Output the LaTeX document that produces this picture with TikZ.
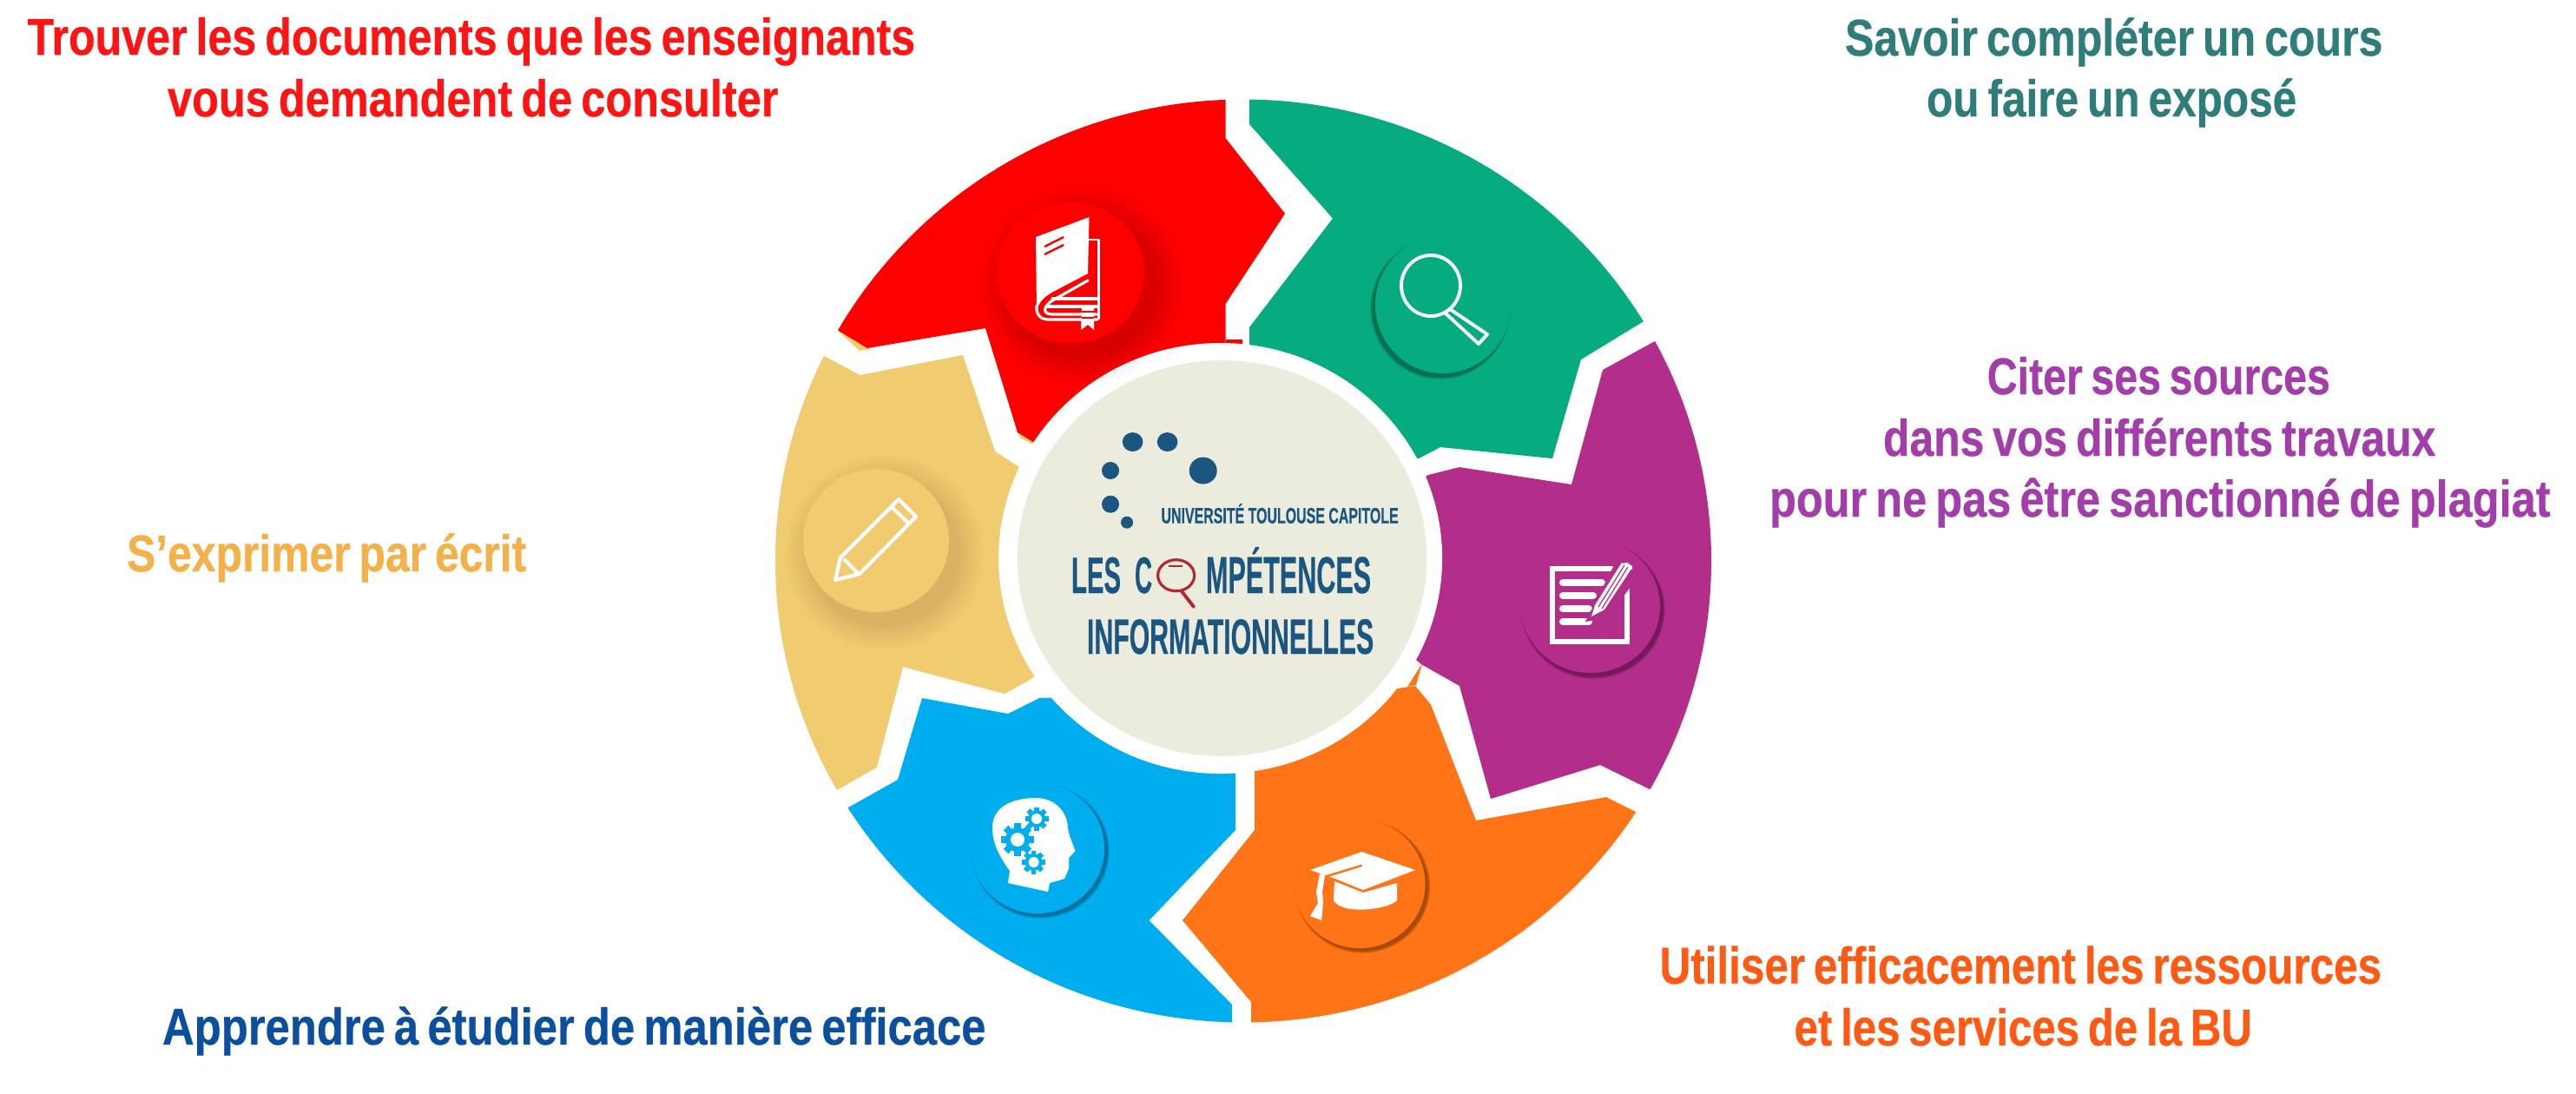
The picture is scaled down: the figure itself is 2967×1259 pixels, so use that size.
\documentclass[tikz,border=0pt]{standalone}
\usepackage{fontspec}
\usepackage{graphicx}
\setmainfont{Liberation Sans}[BoldFeatures={FakeBold=0.5}]
\definecolor{cred}{HTML}{FF0000}
\definecolor{cgreen}{HTML}{06AC7F}
\definecolor{cpurple}{HTML}{B32D8B}
\definecolor{corange}{HTML}{FF7417}
\definecolor{cblue}{HTML}{00AEEF}
\definecolor{cyellow}{HTML}{F1CB6F}
\definecolor{cbeige}{HTML}{ECECDE}
\definecolor{navy}{HTML}{1B5680}
\definecolor{lensred}{HTML}{B0282E}
\definecolor{tred}{HTML}{FF1414}
\definecolor{tgreen}{HTML}{2E7D7B}
\definecolor{tpurple}{HTML}{A23DAA}
\definecolor{torange}{HTML}{FF5A14}
\definecolor{tyellow}{HTML}{F4B14A}
\definecolor{tblue}{HTML}{0B4F9E}
\newcommand\fitline[2]{\resizebox{#1}{0.527cm}{\bfseries\spaceskip=0.2em\relax\vphantom{Égp}#2}}
\newcommand\logotext[3]{\resizebox{#1}{#2}{\bfseries #3}}
% cx cy rx ry dx dy spread opacity
\newcommand\softshadow[8]{%
  \foreach \i in {1,...,12}{%
    \fill[black,opacity=#8] ({#1+#5},{#2+#6}) ellipse ({#3+#7*\i/12} and {#4+#7*\i/12});
  }%
  \fill[shadowcol] (#1,#2) ellipse (#3 and #4);
}
% cx cy R hole
\newcommand\gearicon[4]{%
  \fill[cblue] (#1,#2) circle ({#3*.74});
  \foreach \a in {0,45,...,315}{%
    \draw[cblue,line width=.055cm*#3/13]
      ({#1+#3*.6*cos(\a)},{#2+#3*.6*sin(\a)}) -- ({#1+#3*cos(\a)},{#2+#3*sin(\a)});
  }%
  \fill[white] (#1,#2) circle (#4);
}
\tikzset{
  lab/.style={anchor=base west,inner sep=0pt,outer sep=0pt},
  ico/.style={draw=white,line join=round,line cap=round,fill=none},
}
\begin{document}
\begin{tikzpicture}[x=0.01cm,y=-0.01cm]
\path[use as bounding box,fill=white] (0,0) rectangle (2967,1259);

% ----- wheel segments, clipped by the outer ellipse
\begin{scope}
\clip (1432,646) ellipse (539 and 531.5);
\fill[cyellow] (962,378) -- (990,404) -- (1002,402) -- (966,378) -- cycle;
\fill[cyellow] (1170,495) -- (1176,505) -- (1192,513) -- (1192,506) -- cycle;
\fill[corange] (1638,764) -- (1621,791) -- (1631,789) -- cycle;
\fill[cred] (1411.5,391) rectangle (1431,400);
\fill[cred] (1411.5,60) -- (850,60) -- (930,359) -- (999,401) -- (1135,378) -- (1172,498) -- (1190,509) -- (1300,520) -- (1411.5,500) -- (1411.5,350) -- (1480,246) -- (1411.5,159) -- cycle;
\fill[cgreen] (1439,60) -- (2000,60) -- (1959,330) -- (1821,414) -- (1788,528) -- (1659,515) -- (1634,528) -- (1500,520) -- (1439,500) -- (1439,377) -- (1535,251.5) -- (1439,143) -- cycle;
\fill[cpurple] (1964,361) -- (2050,361) -- (2050,950) -- (1957,937) -- (1843,881) -- (1717,920) -- (1681,790) -- (1637,765) -- (1560,700) -- (1560,600) -- (1645,547) -- (1681,538) -- (1810,558) -- (1846,426) -- cycle;
\fill[corange] (1950,968) -- (1950,1250) -- (1441,1250) -- (1441,1154) -- (1362,1060) -- (1445,956) -- (1445,850) -- (1560,800) -- (1630,790) -- (1648,811.5) -- (1700,945) -- (1850,918) -- cycle;
\fill[cblue] (1419,1250) -- (900,1250) -- (920,962) -- (1034,898) -- (1062,804) -- (1161,822) -- (1197,804) -- (1300,800) -- (1423,850) -- (1423,956) -- (1323.5,1060) -- (1419,1157) -- cycle;
\fill[cyellow] (908,388) -- (850,388) -- (850,934) -- (922,934) -- (1010,883.6) -- (1040,768) -- (1157,799) -- (1186,783) -- (1300,700) -- (1300,600) -- (1174,538) -- (1146,520) -- (1109,409) -- (990.5,432) -- cycle;
\end{scope}

% ----- centre disc
\fill[white] (1405.6,643) ellipse (255.5 and 248);
\fill[cbeige] (1407.5,643) ellipse (235.8 and 228);

% ----- icon discs with shadows
\colorlet{shadowcol}{cred}
\softshadow{1233}{314}{85}{81.5}{13}{15}{32}{.012}
\colorlet{shadowcol}{cgreen}
\softshadow{1662}{351}{78}{79}{-3}{4}{3}{.03}
\colorlet{shadowcol}{cpurple}
\softshadow{1832}{698}{80}{77}{3}{4}{3}{.03}
\colorlet{shadowcol}{corange}
\softshadow{1566}{1018}{75.5}{74}{3}{3}{3}{.03}
\colorlet{shadowcol}{cblue}
\softshadow{1195}{977}{77}{75}{3}{3}{3}{.03}
\colorlet{shadowcol}{cyellow}
\softshadow{1009}{622.5}{84}{82.5}{10}{14}{30}{.009}

% ----- book
\fill[white] (1193,273) -- (1254.5,250) -- (1253,315) -- (1213,336) .. controls (1200,343) and (1196,350) .. (1194,358) -- cycle;
\draw[ico,line width=.8pt] (1254.5,276) -- (1265.6,276) -- (1265.6,367);
\draw[ico,line width=.9pt] (1253,323) -- (1214,345) .. controls (1201,352) and (1200,362) .. (1212,362) -- (1263,362);
\draw[ico,line width=.9pt] (1194,352) .. controls (1193,362) and (1198,368) .. (1208,368) -- (1264,368);
\draw[ico,line width=.9pt] (1212,344) -- (1263,344);
\draw[ico,line width=.9pt] (1206,353) -- (1263,353);
\draw[cred,line width=.7pt] (1203,284) -- (1225,273) (1203,293) -- (1225,282);
\fill[white] (1246,352) -- (1260,352) -- (1260,380) -- (1253,374) -- (1245,380) -- cycle;
\draw[cred,line width=.4pt] (1246,359) -- (1260,359) (1246,366) -- (1260,366);

% ----- magnifier
\draw[ico,line width=1.1pt] (1648,329) ellipse (34 and 35);
\draw[ico,line width=1.1pt] (1664,360) -- (1670,356) -- (1713,385) -- (1703,396) -- cycle;

% ----- pencil
\draw[ico,line width=1.2pt] (962,668) -- (968,642) -- (1035,575) -- (1055,595) -- (990,661) -- cycle;
\draw[ico,line width=1.2pt] (973,645) -- (987,659);
\draw[ico,line width=1.2pt] (1027,584) -- (1047,603);

% ----- note and pen
\draw[white,line width=1.8pt] (1788,655) rectangle (1874,739);
\foreach \y/\e in {671/1845,686/1835,701/1830,716/1830}{%
  \draw[white,line width=2.3pt,line cap=round] (1800,\y) -- (\e,\y);
}
\fill[cpurple] (1826,716) -- (1862,645) -- (1892,650) -- (1884,668) -- (1851,712) -- cycle;
\fill[white] (1833,710) -- (1837,697) -- (1868,648) -- (1879,655) -- (1848,702) -- cycle;
\draw[cpurple,line width=.35pt] (1841,699) -- (1871,651) (1845,701) -- (1875,653);
\fill[white] (1874,648) -- (1880,652) -- (1880,656) -- (1868,649) -- cycle;

% ----- head with gears
\fill[white] (1161,1017) -- (1163,1003) .. controls (1150,985) and (1143,970) .. (1143,953)
  .. controls (1143,930) and (1165,919) .. (1193,919)
  .. controls (1215,919) and (1230,935) .. (1230,955) -- (1232,963) -- (1238.5,980) -- (1231,988)
  -- (1231,1000) -- (1226,1012) -- (1209,1017) -- (1207,1027) -- cycle;
\gearicon{1172}{967}{19}{8}
\gearicon{1194}{943}{13.5}{6}
\gearicon{1190.6}{993}{13.5}{6}

% ----- graduation cap
\fill[white] (1537,1015) -- (1570,1028) -- (1609,1017) -- (1609,1037) .. controls (1598,1048) and (1545,1054) .. (1536,1037) -- cycle;
\fill[white] (1509,1002) -- (1568.4,981) -- (1630,1002) -- (1570,1025) -- (1538,1012) -- (1521,1006) -- cycle;
\draw[corange,line width=.7pt,line cap=round] (1568,997) -- (1525,1010);
\fill[white] (1520,1006) -- (1526,1008) -- (1523,1027) -- (1524,1040) -- (1522,1060) -- (1509,1055) -- (1518,1040) -- (1516,1027) -- cycle;

% ----- logo
\fill[navy] (1304.6,509) ellipse (11.8 and 11);
\fill[navy] (1344.6,509) ellipse (11.8 and 11);
\fill[navy] (1385.7,542) ellipse (16 and 15.5);
\fill[navy] (1279,542) ellipse (10 and 10);
\fill[navy] (1279,580.7) ellipse (10 and 10);
\fill[navy] (1298,601.7) ellipse (7 and 7);
\node[lab,text=navy] (univ) at (1337.5,602.7) {\logotext{2.73cm}{0.226cm}{UNIVERSITÉ TOULOUSE CAPITOLE}};
\node[lab,text=navy] (les) at (1234,683) {\logotext{0.57cm}{0.413cm}{LES}};
\node[lab,text=navy] (cc) at (1307,683) {\logotext{0.2cm}{0.413cm}{C}};
\node[lab,text=navy] (mpet) at (1389,683) {\logotext{1.9cm}{0.53cm}{MPÉTENCES}};
\node[lab,text=navy] (inf) at (1252,753) {\logotext{3.3cm}{0.4cm}{INFORMATIONNELLES}};
\draw[lensred,line width=.9pt] (1354.6,662.7) ellipse (21 and 18);
\draw[lensred,line width=1.1pt,line cap=round] (1361,681) -- (1375,699);
\draw[lensred,line width=.4pt] (1346,652) -- (1362,652);

% ----- captions
\node[lab,text=tred] (t1a) at (31.6,63) {\fitline{10.22cm}{Trouver les documents que les enseignants}};
\node[lab,text=tred] (t1b) at (193,134) {\fitline{7.03cm}{vous demandent de consulter}};
\node[lab,text=tgreen] (t2a) at (2125,64) {\fitline{6.19cm}{Savoir compléter un cours}};
\node[lab,text=tgreen] (t2b) at (2219,134) {\fitline{4.26cm}{ou faire un exposé}};
\node[lab,text=tpurple] (t3a) at (2288.7,454) {\fitline{3.95cm}{Citer ses sources}};
\node[lab,text=tpurple] (t3b) at (2169,525) {\fitline{6.36cm}{dans vos différents travaux}};
\node[lab,text=tpurple] (t3c) at (2038,595) {\fitline{8.99cm}{pour ne pas être sanctionné de plagiat}};
\node[lab,text=torange] (t4a) at (1911.6,1132.7) {\fitline{8.31cm}{Utiliser efficacement les ressources}};
\node[lab,text=torange] (t4b) at (2066.6,1204) {\fitline{5.27cm}{et les services de la BU}};
\node[lab,text=tyellow] (t5) at (146,658) {\fitline{4.6cm}{S’exprimer par écrit}};
\node[lab,text=tblue] (t6) at (187,1203) {\fitline{9.48cm}{Apprendre à étudier de manière efficace}};
\end{tikzpicture}
\end{document}
